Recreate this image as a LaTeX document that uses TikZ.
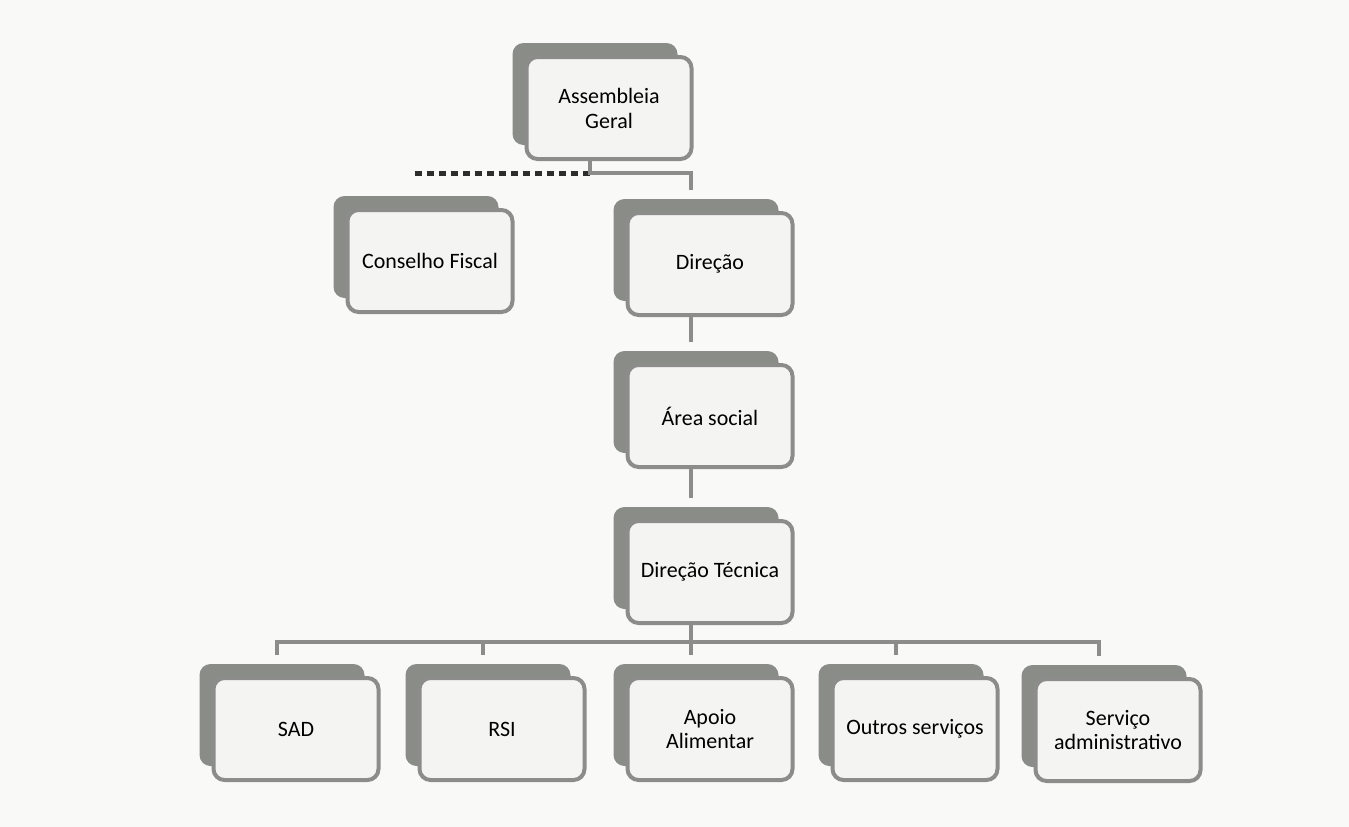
\documentclass[tikz,border=0pt]{standalone}
\usepackage{fontspec}
\setmainfont{Carlito}
\usepackage{tikz}
\usetikzlibrary{positioning,calc,shadows}
\usepackage{xcolor}
\definecolor{paper}{RGB}{249,249,248}
\definecolor{boxfill}{RGB}{244,244,243}
\definecolor{boxline}{RGB}{140,141,139}
\definecolor{boxshade}{RGB}{138,141,135}
\definecolor{dotline}{RGB}{45,45,45}

\begin{document}
\begin{tikzpicture}[
    unit/.style={rectangle, draw=boxline, fill=boxfill, line width=0.08cm, rounded corners=0.22cm,
        minimum width=3.3cm, minimum height=2.04cm, align=center,
        font=\fontsize{12.5}{14.2}\selectfont,
        general shadow={shadow xshift=-0.28cm, shadow yshift=0.28cm, fill=boxshade}},
    link/.style={draw=boxline, line width=0.09cm},
    dashlink/.style={draw=dotline, line width=0.1cm, dash pattern=on 0.14cm off 0.1cm}
]
    \fill[paper] (0,0) rectangle (26.98,-16.54);
    \useasboundingbox (0,0) rectangle (26.98,-16.54);

    % Top
    \node[unit] (ag) at (12.18, -2.16) {Assembleia\\Geral};

    % Second level
    \node[unit] (cf) at (8.60, -5.22) {Conselho Fiscal};
    \node[unit] (dir) at (14.20, -5.28) {Direção};

    % Middle column
    \node[unit] (area) at (14.20, -8.32) {Área social};
    \node[unit] (dt) at (14.20, -11.44) {Direção Técnica};

    % Services
    \node[unit] (sad) at (5.92, -14.58) {SAD};
    \node[unit] (rsi) at (10.04, -14.58) {RSI};
    \node[unit] (apoio) at (14.20, -14.58) {Apoio\\Alimentar};
    \node[unit] (outros) at (18.30, -14.58) {Outros serviços};
    \node[unit] (sa) at (22.36, -14.60) {Serviço\\administrativo};

    % Connectors
    \coordinate (split) at ($(ag.south)+(-0.38,-0.24)$);
    \coordinate (bar) at ($(dt.south)+(0,-0.34)$);

    \draw[dashlink] (split) -- ($(cf.north |- split)+(-0.38,0)$);
    \draw[link] ([xshift=-0.38cm]ag.south) -- (split) -| ([xshift=-0.38cm,yshift=0.42cm]dir.north);
    \draw[link] ([xshift=-0.38cm]dir.south) -- ([xshift=-0.38cm,yshift=0.42cm]area.north);
    \draw[link] ([xshift=-0.38cm]area.south) -- ([xshift=-0.38cm,yshift=0.42cm]dt.north);
    \draw[link] ([xshift=-0.38cm]dt.south) -- ([xshift=-0.38cm,yshift=0.42cm]apoio.north);
    \draw[link] ([xshift=-0.38cm,yshift=0.42cm]sad.north) |- (bar) -| ([xshift=-0.38cm,yshift=0.42cm]sa.north);
    \draw[link] ([xshift=-0.38cm,yshift=0.42cm]rsi.north) -- ($(rsi.north |- bar)+(-0.38,0)$);
    \draw[link] ([xshift=-0.38cm,yshift=0.42cm]outros.north) -- ($(outros.north |- bar)+(-0.38,0)$);
\end{tikzpicture}
\end{document}
